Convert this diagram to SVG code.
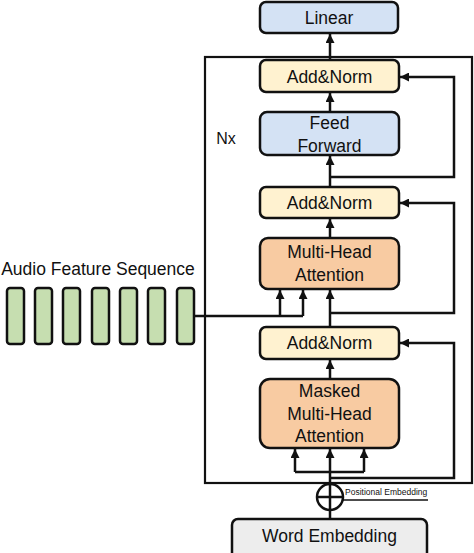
<svg xmlns="http://www.w3.org/2000/svg" width="474" height="553" viewBox="0 0 474 553">
<defs>
<marker id="ah" viewBox="0 0 10 10" refX="10" refY="5" markerWidth="9" markerHeight="9" markerUnits="userSpaceOnUse" orient="auto">
<path d="M0,0 L10,5 L0,10 z" fill="#111"/>
</marker>
<style>
.box{stroke:#111;stroke-width:2.5}
.blue{fill:#d4e2f4}
.yel{fill:#fff2d0}
.ora{fill:#f8cba2}
.grn{fill:#c6deb0}
.gry{fill:#ededed}
text{font-family:"Liberation Sans",Arial,sans-serif;fill:#111;text-anchor:middle}
.t{font-size:17.5px}
.ln{fill:none;stroke:#111;stroke-width:2.5}
.arr{fill:none;stroke:#111;stroke-width:2.5;marker-end:url(#ah)}
</style>
</defs>
<rect width="474" height="553" fill="#fff"/>
<rect x="205" y="57" width="267" height="426" fill="none" stroke="#111" stroke-width="2.2"/>
<text x="226" y="144" class="t" style="font-size:16px">Nx</text>

<g id="linear"><rect class="box blue" x="260" y="2" width="138" height="31" rx="6"/><text class="t" x="329" y="24">Linear</text></g>
<g id="addnorm1"><rect class="box yel" x="260" y="60" width="139" height="32" rx="6"/><text class="t" x="329.5" y="83">Add&amp;Norm</text></g>
<g id="feedforward"><rect class="box blue" x="260" y="112" width="139" height="43" rx="7"/><text class="t" x="329.5" y="129">Feed</text><text class="t" x="329.5" y="152">Forward</text></g>
<g id="addnorm2"><rect class="box yel" x="260" y="187" width="139" height="31" rx="6"/><text class="t" x="329.5" y="209">Add&amp;Norm</text></g>
<g id="mha"><rect class="box ora" x="260" y="238" width="139" height="51" rx="8"/><text class="t" x="329.5" y="258">Multi-Head</text><text class="t" x="329.5" y="281">Attention</text></g>
<g id="addnorm3"><rect class="box yel" x="260" y="327" width="139" height="32" rx="6"/><text class="t" x="329.5" y="349">Add&amp;Norm</text></g>
<g id="masked"><rect class="box ora" x="260" y="379" width="139" height="69" rx="10"/><text class="t" x="329.5" y="397">Masked</text><text class="t" x="329.5" y="420">Multi-Head</text><text class="t" x="329.5" y="442">Attention</text></g>
<g id="wordemb"><rect class="box gry" x="232" y="519" width="195" height="40" rx="6"/><text class="t" x="329.5" y="542">Word Embedding</text></g>
<g id="audio">
<text class="t" x="98" y="275">Audio Feature Sequence</text>
<rect class="box grn" x="7" y="288" width="17" height="56" rx="3"/>
<rect class="box grn" x="35" y="288" width="17" height="56" rx="3"/>
<rect class="box grn" x="63" y="288" width="17" height="56" rx="3"/>
<rect class="box grn" x="92" y="288" width="17" height="56" rx="3"/>
<rect class="box grn" x="120" y="288" width="17" height="56" rx="3"/>
<rect class="box grn" x="148" y="288" width="17" height="56" rx="3"/>
<rect class="box grn" x="177" y="288" width="17" height="56" rx="3"/>
</g>
<g id="posemb">
<circle cx="330" cy="497" r="13" fill="#fff" stroke="#111" stroke-width="2.5"/>
<path class="ln" d="M317,497 H343"/>
<text x="345" y="495" style="font-size:8.5px;text-anchor:start">Positional Embedding</text>
</g>
<g id="connectors">
<path class="arr" d="M330,60 V34"/>
<path class="arr" d="M330,112 V93"/>
<path class="arr" d="M330,187 V156"/>
<path class="arr" d="M330,177 H454 V77 H400"/>
<path class="arr" d="M330,238 V219"/>
<path class="arr" d="M330,327 V290"/>
<path class="arr" d="M330,313 H454 V203 H400"/>
<path class="ln" d="M194,316 H303"/>
<path class="arr" d="M280,316 V290"/>
<path class="arr" d="M303,316 V290"/>
<path class="arr" d="M330,379 V360"/>
<path class="arr" d="M330,478 H454 V343 H400"/>
<path class="arr" d="M330,510 V449"/>
<path class="ln" d="M295,472 H364"/>
<path class="arr" d="M295,472 V449"/>
<path class="arr" d="M364,472 V449"/>
<path class="ln" d="M330,519 V510"/>
<path class="ln" d="M342,500 H428" style="stroke-width:1.5"/>
</g>
</svg>
